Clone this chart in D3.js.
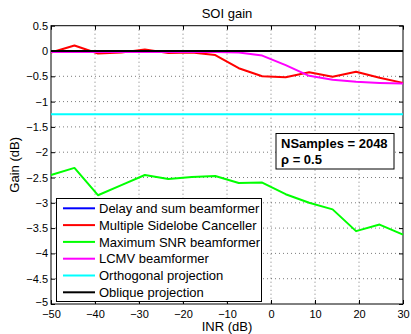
<!DOCTYPE html>
<html><head><meta charset="utf-8">
<script src="https://cdn.jsdelivr.net/npm/d3@7"></script>
<style>
body{margin:0;background:#fff;}
svg{display:block;font-family:"Liberation Sans",Arial,Helvetica,sans-serif;}
</style></head>
<body>
<svg id="c" width="411" height="334"></svg>
<script>
const inr = [-50, -44.67, -39.33, -34, -28.67, -23.33, -18, -12.67, -7.33, -2, 3.33, 8.67, 14, 19.33, 24.67, 30];
const delaySum = [0,0,0,0,0,0,0,0,0,0,0,0,0,0,0,0];
const msc = [-0.03, 0.11, -0.05, -0.03, 0.03, -0.04, -0.03, -0.08, -0.34, -0.5, -0.52, -0.42, -0.51, -0.41, -0.53, -0.63];
const maxSnr = [-2.45, -2.31, -2.85, -2.65, -2.45, -2.53, -2.49, -2.47, -2.61, -2.6, -2.83, -3.0, -3.13, -3.56, -3.43, -3.63];
const lcmv = [-0.02, -0.02, -0.02, -0.02, -0.02, -0.02, -0.02, -0.02, -0.03, -0.09, -0.28, -0.49, -0.57, -0.61, -0.63, -0.64];
const orthProj = [-1.25,-1.25,-1.25,-1.25,-1.25,-1.25,-1.25,-1.25,-1.25,-1.25,-1.25,-1.25,-1.25,-1.25,-1.25,-1.25];
const obliqueProj = [0,0,0,0,0,0,0,0,0,0,0,0,0,0,0,0];
const seriesNames = ["Delay and sum beamformer","Multiple Sidelobe Canceller","Maximum SNR beamformer","LCMV beamformer","Orthogonal projection","Oblique projection"];
const seriesColors = ["#0000ff","#ff0000","#00ff00","#ff00ff","#00ffff","#000000"];
const xTicks = [-50,-40,-30,-20,-10,0,10,20,30];
const yTicks = [0.5,0,-0.5,-1,-1.5,-2,-2.5,-3,-3.5,-4,-4.5,-5];
const title = "SOI gain", xLabel = "INR (dB)", yLabel = "Gain (dB)";
const annot = ["NSamples = 2048", "ρ = 0.5"];

const allSeries = [delaySum, msc, maxSnr, lcmv, orthProj, obliqueProj];
const svg = d3.select("#c");
const L=51, R=403, T=25.7, B=304;
const x = d3.scaleLinear().domain([-50,30]).range([L,R]);
const y = d3.scaleLinear().domain([-5,0.5]).range([B,T]);
const fmt = v => String(v).replace("-", "\u2212");

// grid
const g = svg.append("g");
xTicks.forEach(t=>{ if(t!==-50 && t!==30) g.append("line").attr("x1",x(t)).attr("x2",x(t)).attr("y1",T).attr("y2",B)
  .attr("stroke","#444").attr("stroke-width",0.7).attr("stroke-dasharray","1,3");});
yTicks.forEach(t=>{ if(t!==0.5 && t!==-5) g.append("line").attr("x1",L).attr("x2",R).attr("y1",y(t)).attr("y2",y(t))
  .attr("stroke","#444").attr("stroke-width",0.7).attr("stroke-dasharray","1,3");});

// axes with inward ticks
const ax = d3.axisBottom(x).tickValues(xTicks).tickSizeInner(-4).tickSizeOuter(0).tickPadding(6).tickFormat(fmt);
const ay = d3.axisLeft(y).tickValues(yTicks).tickSizeInner(-4).tickSizeOuter(0).tickPadding(3).tickFormat(fmt);
const gx = svg.append("g").attr("transform",`translate(0,${B})`).call(ax);
const gy = svg.append("g").attr("transform",`translate(${L},0)`).call(ay);
svg.append("g").attr("transform",`translate(0,${T})`).call(d3.axisTop(x).tickValues(xTicks).tickSizeInner(-4).tickSizeOuter(0).tickFormat(""));
svg.append("g").attr("transform",`translate(${R},0)`).call(d3.axisRight(y).tickValues(yTicks).tickSizeInner(-4).tickSizeOuter(0).tickFormat(""));
svg.selectAll(".domain").remove();
[gx,gy].forEach(a=>a.selectAll("text").attr("font-size",11).attr("fill","#000").attr("font-family","Liberation Sans, Arial, sans-serif"));
gy.selectAll(".tick text").filter(d=>d===-5).attr("y",-2);
svg.selectAll(".tick line").attr("stroke","#000");
svg.append("rect").attr("x",L).attr("y",T).attr("width",R-L).attr("height",B-T).attr("fill","none").attr("stroke","#000").attr("stroke-width",1);

// lines
const line = d3.line().x((d,i)=>x(inr[i])).y(d=>y(d));
allSeries.forEach((s,i)=>{
  svg.append("path").datum(s).attr("d",line).attr("fill","none").attr("stroke",seriesColors[i]).attr("stroke-width",2).attr("stroke-linejoin","round");
});

// title/labels
svg.append("text").attr("x",(L+R)/2).attr("y",18).attr("text-anchor","middle").attr("font-size",13).text(title);
svg.append("text").attr("x",(L+R)/2).attr("y",331).attr("text-anchor","middle").attr("font-size",13).text(xLabel);
svg.append("text").attr("transform",`translate(19,${(T+B)/2}) rotate(-90)`).attr("text-anchor","middle").attr("font-size",13).text(yLabel);

// annotation box
svg.append("rect").attr("x",276).attr("y",133.5).attr("width",118).attr("height",35.5).attr("fill","#fff").attr("stroke","#000").attr("stroke-width",1);
svg.append("text").attr("x",281).attr("y",147.5).attr("font-size",13).attr("font-weight","bold").text(annot[0]);
svg.append("text").attr("x",281).attr("y",164).attr("font-size",13).attr("font-weight","bold").text(annot[1]);

// legend
const lg = svg.append("g");
lg.append("rect").attr("x",56.5).attr("y",198.5).attr("width",205).attr("height",103).attr("fill","#fff").attr("stroke","#000").attr("stroke-width",1);
seriesNames.forEach((n,i)=>{
  const cy = 208.3 + i*16.8;
  lg.append("line").attr("x1",63).attr("x2",95).attr("y1",cy).attr("y2",cy).attr("stroke",seriesColors[i]).attr("stroke-width",2);
  lg.append("text").attr("x",99).attr("y",cy+4.7).attr("font-size",13).text(n);
});
</script>
</body></html>
